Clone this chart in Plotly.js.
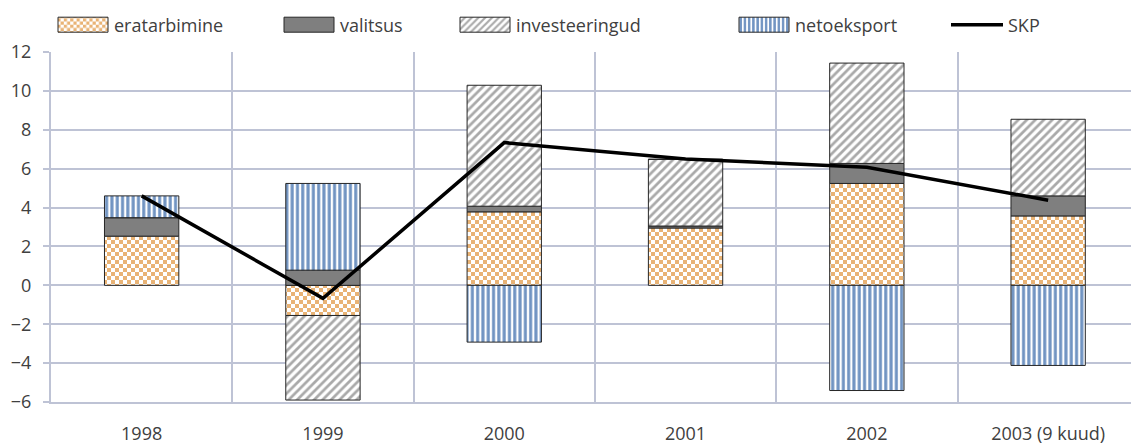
<!DOCTYPE html>
<html>
<head>
<meta charset="utf-8">
<script src="https://cdn.plot.ly/plotly-3.0.1.min.js"></script>
<style>html,body{margin:0;padding:0;background:#fff;}#chart{width:1131px;height:445px;}</style>
</head>
<body>
<div id="chart"></div>
<script>
const years = ['1998', '1999', '2000', '2001', '2002', '2003 (9 kuud)'];
const eratarbimine = [2.53, -1.55, 3.78, 2.95, 5.24, 3.57];
const valitsus = [0.95, 0.78, 0.29, 0.10, 1.03, 1.03];
const investeeringud = [0, -4.35, 6.22, 3.43, 5.16, 3.94];
const netoeksport = [1.12, 4.46, -2.92, 0, -5.41, -4.12];
const skp = [4.6, -0.67, 7.34, 6.5, 6.07, 4.38];
const seriesNames = ['eratarbimine', 'valitsus', 'investeeringud', 'netoeksport', 'SKP'];

const GRID = '#BEC3D5';
const TXT = '#404040';
const OUT = '#262626';
const W = 1131, H = 445;
const FONT = 'Open Sans, sans-serif';
const legendTextX = [114, 340, 516, 795, 1008];
const legendKeys = ['legend', 'legend2', 'legend3', 'legend4', 'legend5'];

function bar(name, y, legend, color, pattern) {
  return {
    type: 'bar', name: name, x: years, y: y, legend: legend,
    width: 0.41,
    marker: { color: color, line: { color: OUT, width: 1 }, pattern: pattern },
    hoverinfo: 'skip'
  };
}

const traces = [
  bar(seriesNames[0], eratarbimine, 'legend', '#E9B375',
      { shape: '.', fgcolor: '#E9B375', bgcolor: '#FFFFFF', size: 8, solidity: 0.5 }),
  bar(seriesNames[1], valitsus, 'legend2', '#7F7F7F', { shape: '' }),
  bar(seriesNames[2], investeeringud, 'legend3', '#A6A6A6',
      { shape: '/', fgcolor: '#A9A9A9', bgcolor: '#FFFFFF', size: 6, solidity: 0.45 }),
  bar(seriesNames[3], netoeksport, 'legend4', '#7194C2',
      { shape: '|', fgcolor: '#7194C2', bgcolor: '#FFFFFF', size: 5.3, solidity: 0.58 }),
  {
    type: 'scatter', mode: 'lines', name: seriesNames[4], x: years, y: skp, legend: 'legend5',
    line: { color: '#000000', width: 3.5 }, hoverinfo: 'skip'
  }
];

function leg(px) {
  return {
    xref: 'container', yref: 'container', x: px / W, y: 1 - 25 / H,
    xanchor: 'left', yanchor: 'middle', orientation: 'h',
    itemwidth: 52, bgcolor: 'rgba(0,0,0,0)', borderwidth: 0,
    font: { family: FONT, size: 18, color: TXT }
  };
}

const layout = {
  width: W, height: H,
  margin: { l: 51, r: 0, t: 52, b: 43 },
  paper_bgcolor: '#FFFFFF', plot_bgcolor: '#FFFFFF',
  font: { family: FONT, size: 18, color: TXT },
  barmode: 'relative',
  showlegend: true,
  xaxis: {
    type: 'category', range: [-0.5, 5.457], tickson: 'boundaries',
    showgrid: true, gridcolor: GRID, gridwidth: 2,
    showline: true, linecolor: GRID, linewidth: 2,
    ticks: '', ticklabelstandoff: 14, automargin: false,
    tickfont: { family: FONT, size: 18, color: TXT }
  },
  yaxis: {
    range: [-6, 12], dtick: 2, tick0: 0,
    showgrid: true, gridcolor: GRID, gridwidth: 2, zeroline: false,
    showline: true, linecolor: GRID, linewidth: 2,
    ticks: 'outside', ticklen: 6, tickwidth: 2, tickcolor: GRID,
    ticklabelstandoff: 8, automargin: false,
    tickfont: { family: FONT, size: 18, color: TXT }
  }
};
legendKeys.forEach((k, i) => { layout[k] = leg(legendTextX[i] - 62); });

const gd = document.getElementById('chart');

function tweak() {
  try {
    const ns = 'http://www.w3.org/2000/svg';
    gd.querySelectorAll('pattern').forEach(p => {
      if (!p.querySelector('circle')) return;
      p.setAttribute('width', 8);
      p.setAttribute('height', 8);
      while (p.firstChild) p.removeChild(p.firstChild);
      const mk = (x, y, w, h, c) => {
        const r = document.createElementNS(ns, 'rect');
        r.setAttribute('x', x); r.setAttribute('y', y);
        r.setAttribute('width', w); r.setAttribute('height', h);
        r.setAttribute('fill', c);
        p.appendChild(r);
      };
      mk(0, 0, 8, 8, '#FFFFFF');
      mk(0, 0, 4, 4, '#E9B375');
      mk(4, 4, 4, 4, '#E9B375');
    });
    gd.querySelectorAll('g.legendpoints path').forEach(pp => {
      const d = pp.getAttribute('d') || '';
      if (d.indexOf('H-6V-6') >= 0) {
        pp.setAttribute('d', 'M25,7.5H-25V-7.5H25Z');
      } else if (pp.classList.contains('js-line')) {
        pp.setAttribute('d', 'M-25,0H25');
      }
    });
  } catch (e) { console.log(e); }
}

Plotly.newPlot(gd, traces, layout, { displayModeBar: false, staticPlot: true }).then(() => {
  tweak();
  requestAnimationFrame(tweak);
  [0, 30, 100, 250, 500, 1000, 2000].forEach(t => setTimeout(tweak, t));
});
</script>
</body>
</html>
